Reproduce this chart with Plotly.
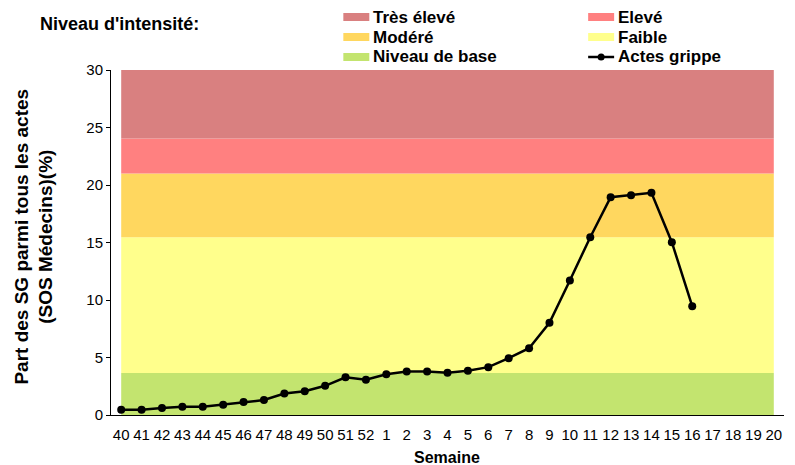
import plotly.graph_objects as go

# ---- data ----
weeks = [str(w) for w in range(40, 53)] + [str(w) for w in range(1, 21)]
actes_grippe = [0.45, 0.45, 0.6, 0.72, 0.72, 0.9, 1.12, 1.3, 1.87, 2.07, 2.54, 3.28, 3.06,
                3.55, 3.78, 3.78, 3.67, 3.84, 4.16, 4.94, 5.81, 8.02, 11.7, 15.46, 18.94,
                19.1, 19.32, 15.03, 9.46]
band_names = ["Niveau de base", "Faible", "Modéré", "Elevé", "Très élevé"]
band_upper = [3.65, 15.45, 21.0, 24.05, 30.0]
band_colors = ["#C3E46F", "#FFFF8C", "#FFD75F", "#FF8080", "#D98080"]
yticks = [0, 5, 10, 15, 20, 25, 30]

# page has an 8px body margin: figure is placed at (8, 8) in the window
OFF = 8
W, H = 795 - OFF, 465 - OFF
PL, PR, PT, PB = 110.5, 784, 70, 415          # plot area in window pixels
L, R, T, B = PL - OFF, W - (PR - OFF), PT - OFF, H - (PB - OFF)
FONT = "Liberation Sans, Arial, sans-serif"


def px_x(px):
    return (px - PL) / (PR - PL)


def px_y(py):
    return (PB - py) / (PB - PT)


fig = go.Figure()

for i, (name, up, col) in enumerate(zip(band_names, band_upper, band_colors)):
    fig.add_trace(go.Scatter(
        x=weeks, y=[up] * len(weeks), mode="lines", line=dict(width=0),
        fill="tozeroy" if i == 0 else "tonexty", fillcolor=col,
        name=name, showlegend=False, hoverinfo="skip"))

fig.add_trace(go.Scatter(
    x=weeks[:len(actes_grippe)], y=actes_grippe, mode="lines+markers",
    line=dict(color="black", width=2.5), marker=dict(color="black", size=8),
    name="Actes grippe", showlegend=False))

# ---- custom legend ----
shapes = []
annotations = []
rows = [17, 37, 57]
legend_items = [
    ("Très élevé", band_colors[4], 0, rows[0]),
    ("Elevé", band_colors[3], 1, rows[0]),
    ("Modéré", band_colors[2], 0, rows[1]),
    ("Faible", band_colors[1], 1, rows[1]),
    ("Niveau de base", band_colors[0], 0, rows[2]),
    ("Actes grippe", None, 1, rows[2]),
]
col_sw = [(343, 369), (588, 614)]
for text, col, c, yc in legend_items:
    x0, x1 = col_sw[c]
    if col is not None:
        shapes.append(dict(type="rect", xref="paper", yref="paper",
                           x0=px_x(x0), x1=px_x(x1), y0=px_y(yc + 4), y1=px_y(yc - 4),
                           fillcolor=col, line=dict(width=0), layer="above"))
    else:
        shapes.append(dict(type="line", xref="paper", yref="paper",
                           x0=px_x(x0), x1=px_x(x1), y0=px_y(yc), y1=px_y(yc),
                           line=dict(color="black", width=2.5)))
        shapes.append(dict(type="circle", xref="paper", yref="paper",
                           x0=px_x((x0 + x1) / 2 - 3.5), x1=px_x((x0 + x1) / 2 + 3.5),
                           y0=px_y(yc + 3.5), y1=px_y(yc - 3.5),
                           fillcolor="black", line=dict(width=0)))
    annotations.append(dict(text=f"<b>{text}</b>", xref="paper", yref="paper",
                            x=px_x(x1 + 2), y=px_y(yc), xanchor="left", yanchor="middle",
                            showarrow=False, font=dict(family=FONT, size=17, color="black")))

annotations.append(dict(text="<b>Niveau d'intensité:</b>", xref="paper", yref="paper",
                        x=px_x(37), y=px_y(24), xanchor="left", yanchor="middle",
                        showarrow=False, font=dict(family=FONT, size=18, color="black")))
annotations.append(dict(text="<b>Part des SG parmi tous les actes<br>(SOS Médecins)(%)</b>",
                        xref="paper", yref="paper", x=px_x(33), y=px_y(237),
                        xanchor="center", yanchor="middle", textangle=-90, showarrow=False,
                        font=dict(family=FONT, size=19, color="black")))
annotations.append(dict(text="<b>Semaine</b>", xref="paper", yref="paper",
                        x=px_x(447), y=px_y(457), xanchor="center", yanchor="middle",
                        showarrow=False, font=dict(family=FONT, size=16, color="black")))

fig.update_layout(
    width=W, height=H, margin=dict(l=L, r=R, t=T, b=B),
    paper_bgcolor="white", plot_bgcolor="white",
    font=dict(family=FONT, size=15, color="black"),
    shapes=shapes, annotations=annotations, showlegend=False,
    xaxis=dict(type="category", categoryorder="array", categoryarray=weeks,
               range=[-0.5, len(weeks) - 0.5], showline=True, linecolor="black",
               linewidth=1, ticks="", showgrid=False, zeroline=False,
               ticklabelstandoff=6, tickfont=dict(size=15, family=FONT)),
    yaxis=dict(range=[0, 30], tickvals=yticks, showline=True, linecolor="black",
               linewidth=1, ticks="outside", ticklen=4, tickcolor="black",
               showgrid=False, zeroline=False, tickfont=dict(size=15, family=FONT)),
)

fig.write_html("out.html")
